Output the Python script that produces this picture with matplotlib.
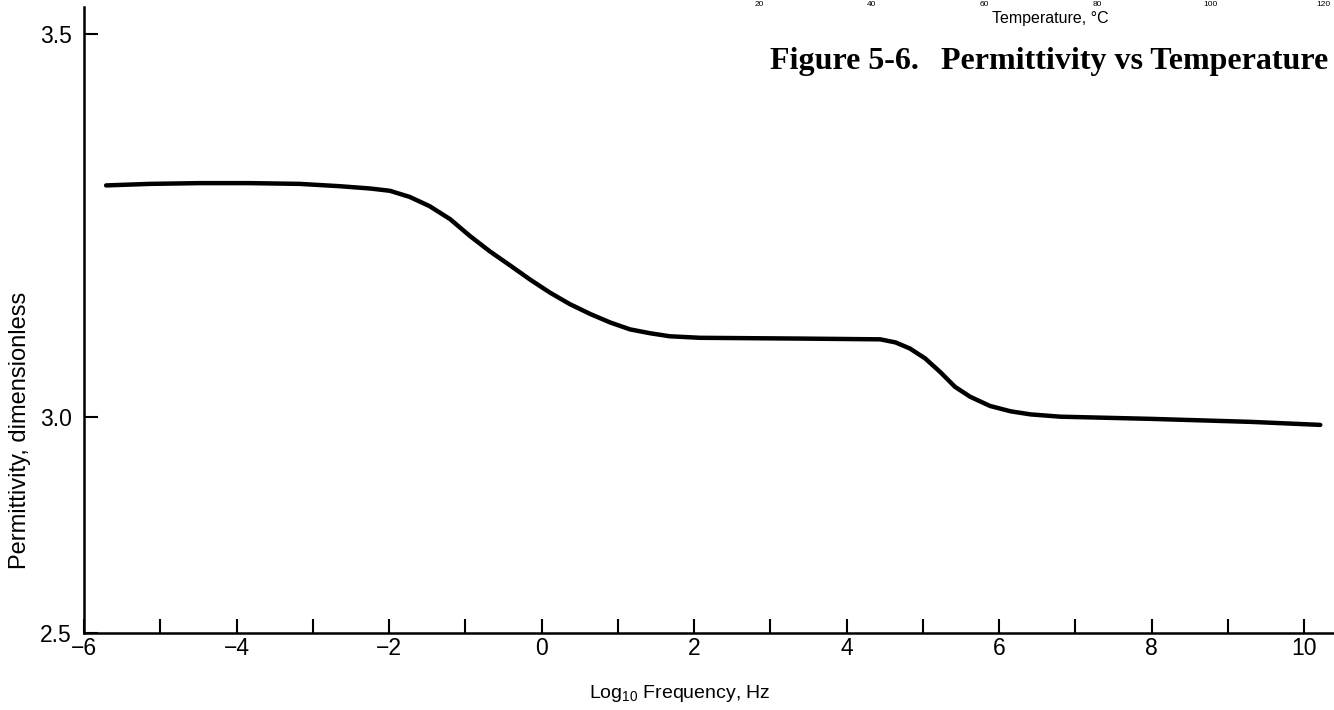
import matplotlib
matplotlib.use("Agg")
import matplotlib.pyplot as plt
import numpy as np

# permittivity curve, log10 frequency (Hz) vs permittivity
log_freq = [-5.71, -5.14, -4.48, -3.83, -3.17, -2.65, -2.25, -1.99, -1.73, -1.47,
            -1.20, -0.94, -0.68, -0.42, -0.15, 0.11, 0.37, 0.64, 0.90, 1.16,
            1.42, 1.68, 2.08, 3.39, 4.44, 4.64, 4.83, 5.03, 5.23, 5.42,
            5.62, 5.88, 6.15, 6.41, 6.80, 7.98, 9.30, 10.21]
permittivity = [3.302, 3.304, 3.305, 3.305, 3.304, 3.301, 3.298, 3.295, 3.287, 3.275,
                3.258, 3.236, 3.216, 3.198, 3.179, 3.162, 3.147, 3.134, 3.123, 3.114,
                3.109, 3.105, 3.103, 3.102, 3.101, 3.097, 3.089, 3.076, 3.058, 3.039,
                3.026, 3.014, 3.007, 3.003, 3.000, 2.995, 2.988, 2.981]

x_major = [-6, -4, -2, 0, 2, 4, 6, 8, 10]
x_minor = [-5, -3, -1, 1, 3, 5, 7, 9]
y_ticks = [2.5, 3.0, 3.5]
y_labels = ["2.5", "3.0", "3.5"]

# leftover tick labels of the temperature plot above
temps = [20, 40, 60, 80, 100, 120]

W, H = 1334, 710
plt.rcParams["mathtext.fontset"] = "custom"
plt.rcParams["mathtext.rm"] = "Liberation Sans"
sans = ["Liberation Sans", "DejaVu Sans"]
narrow = ["Liberation Sans Narrow", "Liberation Sans", "DejaVu Sans"]
serif = ["Liberation Serif", "DejaVu Serif"]

# the axis below 3.0 is squeezed
SQUEEZE = 0.565


def fwd(y):
    y = np.asarray(y, dtype=float)
    return np.where(y >= 3.0, y, 3.0 + (y - 3.0) * SQUEEZE)


def inv(v):
    v = np.asarray(v, dtype=float)
    return np.where(v >= 3.0, v, 3.0 + (v - 3.0) / SQUEEZE)


fig = plt.figure(figsize=(W / 100, H / 100), dpi=100)
ax = fig.add_axes([84 / W, (H - 633) / H, 1 - 84 / W, (633 - 7) / H])
ax.set_yscale("function", functions=(fwd, inv))

ax.plot(log_freq, permittivity, color="black", lw=3.2,
        solid_capstyle="round", solid_joinstyle="round")

ax.set_xlim(-6, 10.39)
ax.set_ylim(2.5, 3.535)

for s in ["top", "right"]:
    ax.spines[s].set_visible(False)
for s in ["left", "bottom"]:
    ax.spines[s].set_linewidth(1.8)

ax.set_xticks(x_major)
ax.set_xticks(x_minor, minor=True)
ax.set_xticklabels([str(v).replace("-", "\u2212") for v in x_major],
                   family=narrow, fontsize=16.5)
ax.set_yticks(y_ticks)
ax.set_yticklabels(y_labels, family=narrow, fontsize=16.5)
ax.yaxis.set_minor_locator(matplotlib.ticker.NullLocator())
ax.tick_params(axis="x", which="both", direction="in", length=10, width=1.5, pad=3)
ax.tick_params(axis="y", which="both", direction="in", length=10, width=1.5, pad=9)

fig.text(20 / W, 1 - 430 / H, "Permittivity, dimensionless", rotation=90,
         ha="center", va="center", family=sans, fontsize=17)
fig.text(680 / W, 1 - 693 / H, r"Log$_{\mathrm{10}}$ Frequency, Hz",
         ha="center", va="center", family=sans, fontsize=14)

# bits of the figure above, at the page edge
for t in temps:
    fig.text((759 + (t - 20) * 5.64) / W, 1 - 0.5 / H, str(t), ha="center",
             va="top", family=sans, fontsize=6)
fig.text(1050 / W, 1 - 19 / H, "Temperature, \u00b0C", ha="center", va="center",
         family=sans, fontsize=11.5)

fig.text(770 / W, 1 - 61 / H, "Figure 5-6.", ha="left", va="center",
         family=serif, fontweight="bold", fontsize=23)
fig.text(1328 / W, 1 - 61 / H, "Permittivity vs Temperature", ha="right", va="center",
         family=serif, fontweight="bold", fontsize=23)

fig.savefig("out.png", dpi=100)
